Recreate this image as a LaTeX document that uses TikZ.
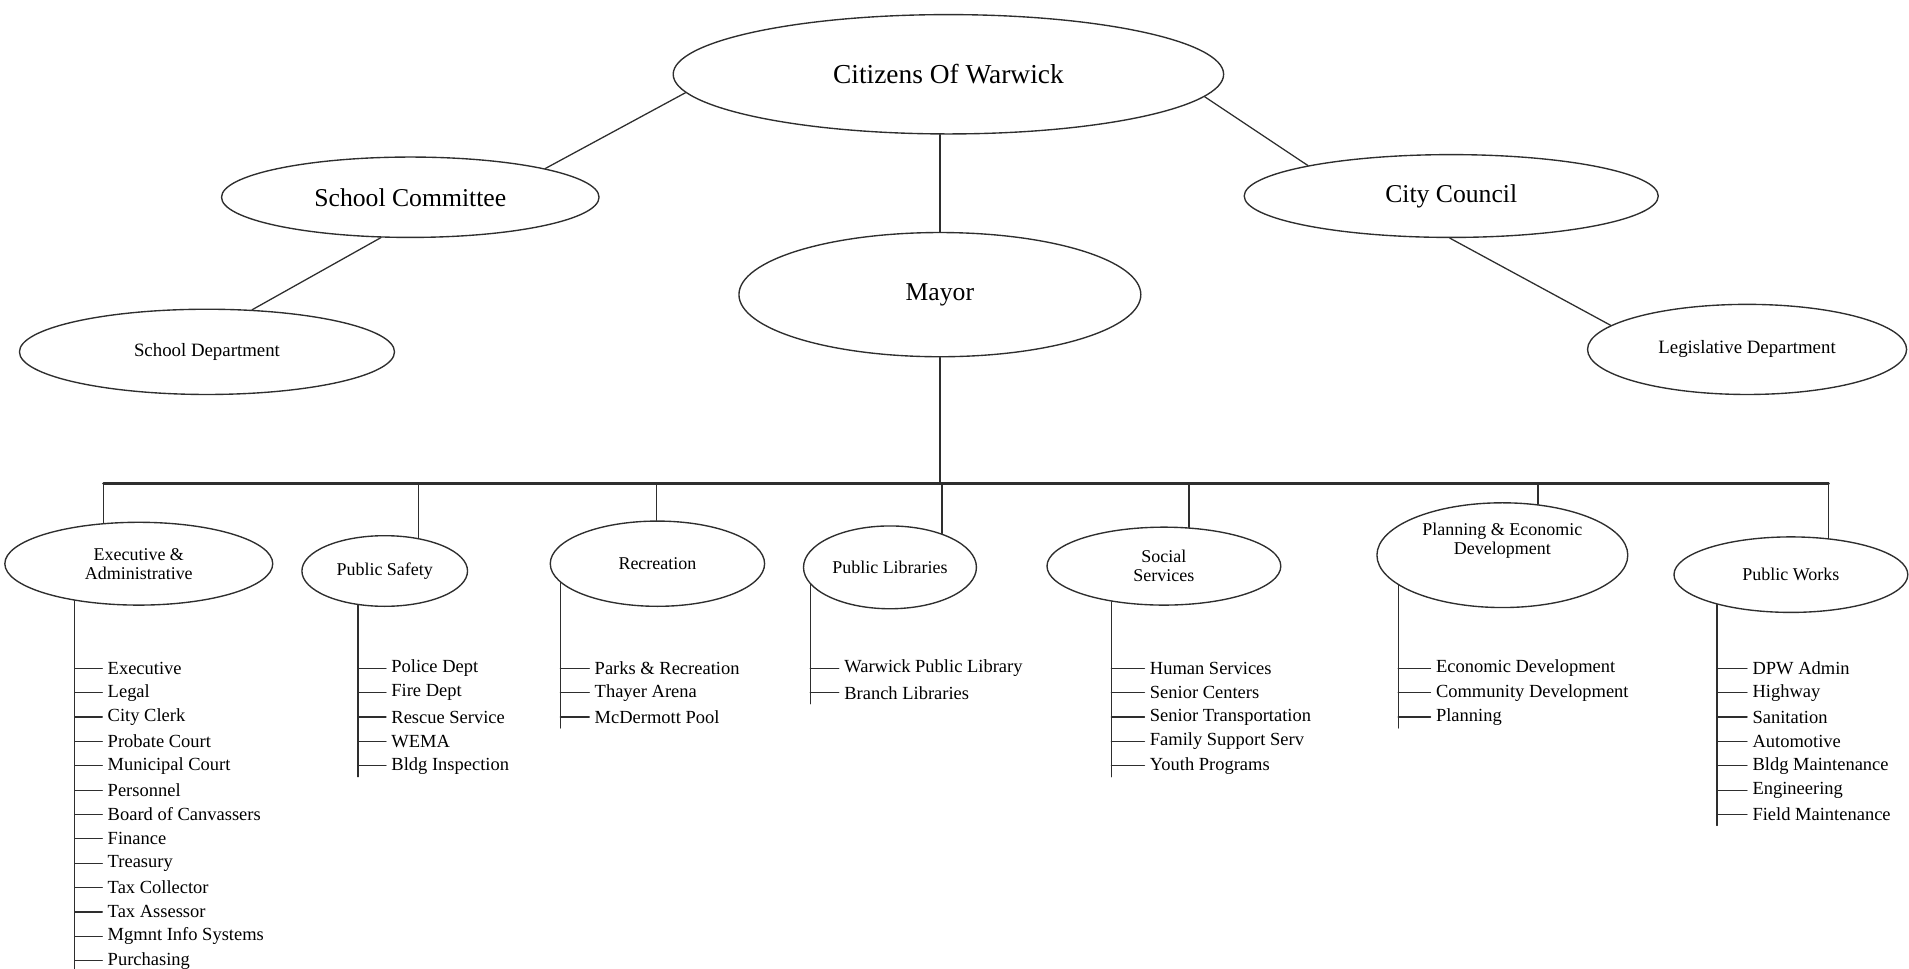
\documentclass[tikz,border=0pt]{standalone}
\usepackage{fontspec}
\setmainfont{Liberation Serif}
\usetikzlibrary{shapes.geometric}
\definecolor{inkgray}{rgb}{0.18,0.18,0.18}

\tikzset{
  oval/.style={draw=inkgray,line width=0.8pt,ellipse,inner sep=0pt,align=center},
  big/.style={font=\fontsize{15}{17}\selectfont},
  small/.style={font=\fontsize{11}{12}\selectfont},
  dept/.style={oval,font=\fontsize{10.5}{11}\selectfont},
  item/.style={anchor=west,inner xsep=3pt,inner ysep=0pt,font=\fontsize{10.8}{12}\selectfont},
  link/.style={draw=inkgray,line width=0.75pt},
  busline/.style={draw=inkgray,line width=1.5pt}
}

\begin{document}
\begin{tikzpicture}[line cap=round,line join=round,x=0.025cm,y=-0.025cm]
	\useasboundingbox (0,0) rectangle (1568,795.9);
	% upper part
	\node[oval,minimum width=11.3cm,minimum height=2.45cm,font=\fontsize{16}{18}\selectfont] (cit) at (779,61) {Citizens Of Warwick};
	\node[oval,big,minimum width=7.75cm,minimum height=1.65cm] (sc) at (337,162) {School Committee};
	\node[oval,big,minimum width=8.5cm,minimum height=1.7cm] (cc) at (1192,161) {City Council};
	\node[oval,big,minimum width=8.25cm,minimum height=2.55cm] (may) at (772,242) {Mayor};
	\node[oval,small,minimum width=7.7cm,minimum height=1.75cm] (sd) at (170,289) {School Department};
	\node[oval,small,minimum width=6.55cm,minimum height=1.85cm] (leg) at (1435,287) {Legislative Department};
	\draw[link] (cit.184) -- (sc.12);
	\draw[link] (cit.355) -- (cc.168);
	\draw[link] (may.north) -- (may.north |- cit.south);
	\draw[link] (sc.234) -- (sd.43);
	\draw[link] (cc.268) -- (leg.170);
	% departments
	\node[dept,minimum width=5.5cm,minimum height=1.7cm] (exe) at (114,463) {Executive \&\\Administrative};
	\node[dept,minimum width=3.4cm,minimum height=1.45cm] (ps) at (316,469) {Public Safety};
	\node[dept,minimum width=4.4cm,minimum height=1.75cm] (rec) at (540,463) {Recreation};
	\node[dept,minimum width=3.55cm,minimum height=1.7cm] (pl) at (731,466) {Public Libraries};
	\node[dept,minimum width=4.8cm,minimum height=1.6cm] (soc) at (956,465) {Social\\Services};
	\node[dept,minimum width=5.15cm,minimum height=2.15cm] (pln) at (1234,456) {};
	\node[align=center,inner sep=0pt,font=\fontsize{10.5}{11}\selectfont] (plntxt) at (1234,444) {Planning \& Economic\\Development};
	\node[dept,minimum width=4.8cm,minimum height=1.55cm] (pw) at (1471,472) {Public Works};
	\coordinate (bus) at (772,397);
	\draw[link] (may.south) -- (bus);
	\draw[busline] (exe.131.5 |- bus) -- (pw.44.4 |- bus);
	\draw[link] (exe.131.5) -- (exe.131.5 |- bus);
	\draw[link] (ps.44.6) -- (ps.44.6 |- bus);
	\draw[link] (rec.91) -- (rec.91 |- bus);
	\draw[link] (pl.33.1) -- (pl.33.1 |- bus);
	\draw[link] (soc.57.4) -- (soc.57.4 |- bus);
	\draw[link] (pln.55.9) -- (pln.55.9 |- bus);
	\draw[link] (pw.44.4) -- (pw.44.4 |- bus);
	% offices under each department
	\coordinate (exeend) at (62,796);
	\draw[link] (exe.210) -- (exe.210 |- exeend);
	\foreach \t [count=\i] in {Executive,Legal,City Clerk,Probate Court,Municipal Court,Personnel,Board of Canvassers,Finance,Treasury,Tax Collector,Tax Assessor,Mgmnt Info Systems,Purchasing} {
		\node[item] (exe\i) at (84,529+20*\i) {\t};
		\draw[link] (exe\i.west -| exe.210) -- (exe\i.west);
	}
	\coordinate (psend) at (295,638);
	\draw[link] (ps.232.7) -- (ps.232.7 |- psend);
	\foreach \t [count=\i] in {Police Dept,Fire Dept,Rescue Service,WEMA,Bldg Inspection} {
		\node[item] (ps\i) at (317,529+20*\i) {\t};
		\draw[link] (ps\i.west -| ps.232.7) -- (ps\i.west);
	}
	\coordinate (recend) at (462,598);
	\draw[link] (rec.191.7) -- (rec.191.7 |- recend);
	\foreach \t [count=\i] in {Parks \& Recreation,Thayer Arena,McDermott Pool} {
		\node[item] (rec\i) at (484,529+20*\i) {\t};
		\draw[link] (rec\i.west -| rec.191.7) -- (rec\i.west);
	}
	\coordinate (plend) at (667,578);
	\draw[link] (pl.192.9) -- (pl.192.9 |- plend);
	\foreach \t [count=\i] in {Warwick Public Library,Branch Libraries} {
		\node[item] (pl\i) at (689,529+20*\i) {\t};
		\draw[link] (pl\i.west -| pl.192.9) -- (pl\i.west);
	}
	\coordinate (socend) at (914,638);
	\draw[link] (soc.214.4) -- (soc.214.4 |- socend);
	\foreach \t [count=\i] in {Human Services,Senior Centers,Senior Transportation,Family Support Serv,Youth Programs} {
		\node[item] (soc\i) at (940,529+20*\i) {\t};
		\draw[link] (soc\i.west -| soc.214.4) -- (soc\i.west);
	}
	\coordinate (plnend) at (1149,598);
	\draw[link] (pln.196) -- (pln.196 |- plnend);
	\foreach \t [count=\i] in {Economic Development,Community Development,Planning} {
		\node[item] (pln\i) at (1175,529+20*\i) {\t};
		\draw[link] (pln\i.west -| pln.196) -- (pln\i.west);
	}
	\coordinate (pwend) at (1411,678);
	\draw[link] (pw.202) -- (pw.202 |- pwend);
	\foreach \t [count=\i] in {DPW Admin,Highway,Sanitation,Automotive,Bldg Maintenance,Engineering,Field Maintenance} {
		\node[item] (pw\i) at (1435,529+20*\i) {\t};
		\draw[link] (pw\i.west -| pw.202) -- (pw\i.west);
	}
\end{tikzpicture}
\end{document}
